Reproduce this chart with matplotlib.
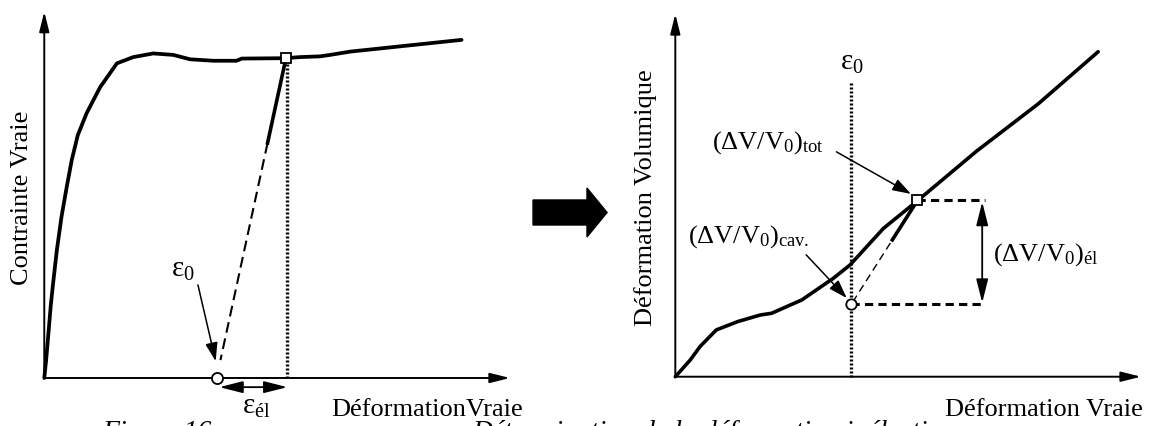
import matplotlib
matplotlib.use('Agg')
import matplotlib.pyplot as plt
import matplotlib.patches as mpatches
import numpy as np

plt.rcParams['font.family'] = ['Liberation Serif', 'DejaVu Serif']
plt.rcParams['mathtext.fontset'] = 'custom'
plt.rcParams['mathtext.rm'] = 'Liberation Serif'
plt.rcParams['mathtext.it'] = 'Liberation Serif:italic'

# courbe contrainte vraie / deformation vraie (unites normalisees)
strain_sig = [0.000, 0.004, 0.009, 0.014, 0.019, 0.027, 0.037, 0.047, 0.059, 0.072,
              0.091, 0.120, 0.156, 0.191, 0.234, 0.277, 0.313, 0.363, 0.413, 0.424,
              0.517, 0.549, 0.592, 0.614, 0.657, 0.896]
stress = [0.000, 0.049, 0.123, 0.199, 0.259, 0.349, 0.440, 0.513, 0.595, 0.663,
          0.723, 0.794, 0.859, 0.876, 0.886, 0.882, 0.870, 0.866, 0.866, 0.872,
          0.873, 0.876, 0.878, 0.882, 0.891, 0.923]

# courbe deformation volumique / deformation vraie
strain_vol = [0.000, 0.032, 0.053, 0.088, 0.134, 0.182, 0.207, 0.272, 0.339, 0.375,
              0.447, 0.518, 0.647, 0.779, 0.908]
vol = [0.000, 0.046, 0.083, 0.129, 0.152, 0.170, 0.175, 0.212, 0.271, 0.308,
       0.409, 0.483, 0.622, 0.752, 0.896]

# points caracteristiques
eps_tot_L, sig_tot, eps0_L = 0.519, 0.873, 0.370
eps_tot_R, vol_tot = 0.520, 0.486
eps0_R, vol_cav = 0.378, 0.200
vol_dash_end = 0.665

FS = 19
FS_EPS = 21
BLK = 'black'


def axis_arrows(ax):
    kw = dict(arrowstyle='-|>,head_length=0.8,head_width=0.2', lw=1.4, color=BLK,
              mutation_scale=15, shrinkA=0, shrinkB=0)
    ax.annotate('', xy=(1, 0), xytext=(0, 0), arrowprops=kw, annotation_clip=False)
    ax.annotate('', xy=(0, 1), xytext=(0, 0), arrowprops=kw, annotation_clip=False)


def pointer(ax, start, end):
    ax.annotate('', xy=end, xytext=start, annotation_clip=False,
                arrowprops=dict(arrowstyle='-|>,head_length=0.75,head_width=0.25',
                                lw=1.1, color=BLK, mutation_scale=15,
                                shrinkA=0, shrinkB=0))


def double_arrow(ax, a, b):
    ax.annotate('', xy=b, xytext=a, annotation_clip=False,
                arrowprops=dict(arrowstyle='<|-|>,head_length=0.95,head_width=0.24',
                                lw=1.3, color=BLK, mutation_scale=15,
                                shrinkA=0, shrinkB=0))


def segment(p, q, f0, f1):
    t = np.array([f0, f1])
    return p[0] + (q[0] - p[0]) * t, p[1] + (q[1] - p[1]) * t


fig = plt.figure(figsize=(11.53, 4.26), dpi=100)

# ---- panneau gauche
axL = fig.add_axes([0.0384, 0.1127, 0.4039, 0.8599])
axL.set_xlim(0, 1)
axL.set_ylim(0, 1)
axL.axis('off')
axis_arrows(axL)
axL.plot(strain_sig, stress, color=BLK, lw=2.7, solid_capstyle='round', clip_on=False)
axL.plot([eps_tot_L + 0.003] * 2, [0, sig_tot], color=BLK, lw=2.4,
         linestyle=(0, (0.6, 0.6)), clip_on=False)
top = (eps_tot_L, sig_tot)
bot = (eps0_L, 0.0)
xs, ys = segment(top, bot, 0.0, 0.265)
axL.plot(xs, ys, color=BLK, lw=2.6, clip_on=False)
xs, ys = segment(top, bot, 0.265, 0.944)
axL.plot(xs, ys, color=BLK, lw=1.5, linestyle=(0, (5.2, 2.8)), clip_on=False)
axL.plot([eps_tot_L], [sig_tot], marker='s', ms=7.5, mfc='white', mec=BLK, mew=1.3,
         clip_on=False, zorder=5)
axL.plot([eps0_L], [0], marker='o', ms=8, mfc='white', mec=BLK, mew=1.3,
         clip_on=False, zorder=5)
pointer(axL, (0.330, 0.254), (0.368, 0.046))
axL.text(0.272, 0.276, r'$\mathrm{ε}_0$', fontsize=FS_EPS, ha='left', va='baseline')
double_arrow(axL, (eps0_L + 0.006, -0.025), (eps_tot_L + 0.003, -0.025))
axL.text(0.424, -0.098, r'$\mathrm{ε}_{\mathrm{él}}$', fontsize=FS_EPS, ha='left',
         va='baseline')
axL.text(-0.047, 0.491, 'Contrainte Vraie', fontsize=FS, rotation=90,
         ha='center', va='center')
axL.text(1.028, -0.104, 'DéformationVraie', fontsize=FS, ha='right', va='baseline')

# ---- fleche centrale
fig.patches.append(mpatches.FancyArrow(0.4623, 0.5012, 0.0642, 0.0, width=0.0587,
                                       head_width=0.115, head_length=0.0174,
                                       length_includes_head=True, color=BLK,
                                       transform=fig.transFigure, figure=fig))

# ---- panneau droit
axR = fig.add_axes([0.5857, 0.1157, 0.4039, 0.8514])
axR.set_xlim(0, 1)
axR.set_ylim(0, 1)
axR.axis('off')
axis_arrows(axR)
axR.plot(strain_vol, vol, color=BLK, lw=2.6, solid_capstyle='round', clip_on=False)
axR.plot([eps0_R] * 2, [0, 0.813], color=BLK, lw=2.4,
         linestyle=(0, (0.6, 0.6)), clip_on=False)
top = (eps_tot_R, vol_tot)
bot = (eps0_R, vol_cav)
xs, ys = segment(top, bot, 0.0, 0.38)
axR.plot(xs, ys, color=BLK, lw=2.6, clip_on=False)
xs, ys = segment(top, bot, 0.41, 0.96)
axR.plot(xs, ys, color=BLK, lw=1.0, linestyle=(0, (5.5, 3.5)), clip_on=False)
axR.plot([eps_tot_R, vol_dash_end], [vol_tot, vol_tot], color=BLK, lw=2.2,
         linestyle=(0, (2.7, 1.7)), clip_on=False)
axR.plot([eps0_R, vol_dash_end], [vol_cav, vol_cav], color=BLK, lw=2.2,
         linestyle=(0, (2.7, 1.7)), clip_on=False)
double_arrow(axR, (0.659, vol_cav + 0.004), (0.659, vol_tot - 0.004))
axR.plot([eps_tot_R], [vol_tot], marker='s', ms=7.5, mfc='white', mec=BLK, mew=1.3,
         clip_on=False, zorder=5)
axR.plot([eps0_R], [vol_cav], marker='o', ms=7.5, mfc='white', mec=BLK, mew=1.3,
         clip_on=False, zorder=5)
axR.text(eps0_R + 0.001, 0.846, r'$\mathrm{ε}_0$', fontsize=FS_EPS, ha='center',
         va='baseline')
axR.text(0.078, 0.629, r'$\mathrm{(ΔV/V_0)}_{\mathrm{tot}}$', fontsize=FS,
         ha='left', va='baseline')
pointer(axR, (0.346, 0.620), (0.506, 0.504))
axR.text(0.028, 0.371, r'$\mathrm{(ΔV/V_0)}_{\mathrm{cav.}}$', fontsize=FS,
         ha='left', va='baseline')
pointer(axR, (0.281, 0.336), (0.368, 0.217))
axR.text(0.683, 0.319, r'$\mathrm{(ΔV/V_0)}_{\mathrm{él}}$', fontsize=FS,
         ha='left', va='baseline')
axR.text(-0.063, 0.493, 'Déformation Volumique', fontsize=FS, rotation=90,
         ha='center', va='center')
axR.text(1.0045, -0.108, 'Déformation Vraie', fontsize=FS, ha='right', va='baseline')

# ---- legende (coupee en bas de l'image, comme dans l'original)
fig.text(0.0882, -0.0315, 'Figure 16 :', fontsize=20, style='italic', va='baseline')
fig.text(0.4094, -0.0315, 'Détermination de la déformation inélastique', fontsize=20,
         style='italic', va='baseline')

fig.savefig('out.png', dpi=100)
